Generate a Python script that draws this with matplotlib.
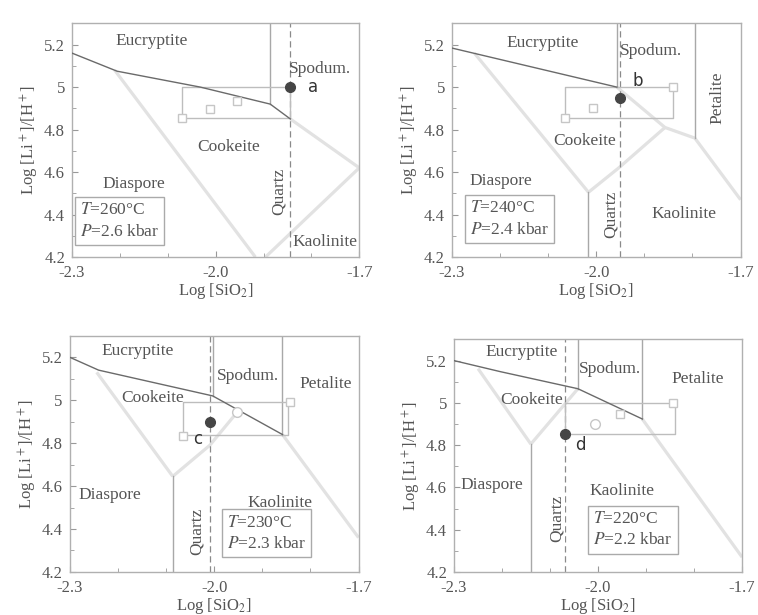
import matplotlib
matplotlib.use("Agg")
import matplotlib.pyplot as plt
from matplotlib.ticker import MultipleLocator, FixedLocator

plt.rcParams['font.family'] = ['Liberation Serif', 'DejaVu Serif']
plt.rcParams['mathtext.fontset'] = 'stix'

# ---- data (x = log[SiO2], y = log[Li+]/[H+]) ----
panels = ['a', 'b', 'c', 'd']
temps = [260, 240, 230, 220]
press = [2.6, 2.4, 2.3, 2.2]

# eucryptite / spodumene boundary (dark solid line)
eucr_x = [[-2.3, -2.206, -2.032, -1.886, -1.844],
          [-2.3, -1.957],
          [-2.3, -2.24, -2.003, -1.858],
          [-2.3, -2.204, -2.042, -1.908]]
eucr_y = [[5.16, 5.075, 5.0, 4.92, 4.85],
          [5.184, 5.0],
          [5.2, 5.14, 5.02, 4.84],
          [5.2, 5.148, 5.067, 4.924]]

# vertical phase boundaries: (x, y_low, y_high)
vert_a = [(-1.886, 4.92, 5.3)]
vert_b = [(-1.957, 5.0, 5.3), (-1.795, 4.76, 5.3), (-2.016, 4.2, 4.505)]
vert_c = [(-2.003, 5.02, 5.3), (-1.858, 4.84, 5.3), (-2.086, 4.2, 4.645)]
vert_d = [(-2.042, 5.067, 5.3), (-1.908, 4.924, 5.3), (-2.14, 4.2, 4.805)]

# light (broad grey) boundaries
light_a = [([-2.211, -1.917], [5.08, 4.2]),
           ([-1.896, -1.7], [4.2, 4.62]),
           ([-1.844, -1.7], [4.85, 4.62])]
light_b = [([-2.253, -2.016], [5.16, 4.505]),
           ([-2.016, -1.953, -1.857], [4.505, 4.62, 4.81]),
           ([-1.957, -1.857, -1.795, -1.7], [5.0, 4.81, 4.76, 4.47])]
light_c = [([-2.244, -2.086], [5.13, 4.645]),
           ([-2.086, -2.009, -1.95], [4.645, 4.79, 4.95]),
           ([-1.858, -1.7], [4.84, 4.36])]
light_d = [([-2.25, -2.14], [5.162, 4.805]),
           ([-2.14, -2.042], [4.805, 5.067]),
           ([-1.908, -1.7], [4.924, 4.27])]

# quartz saturation (dashed)
quartz_x = [-1.844, -1.951, -2.009, -2.069]

# fluid composition range boxes
range_x = [[-2.07, -1.844], [-2.065, -1.84], [-2.065, -1.847], [-2.069, -1.84]]
range_y = [[4.855, 5.0], [4.856, 5.0], [4.84, 4.99], [4.852, 5.0]]

# hollow markers inside the boxes
sq_x = [[-2.011, -2.07, -1.955], [-1.841, -2.007, -2.065], [-1.843, -2.065], [-1.844, -1.954]]
sq_y = [[4.897, 4.855, 4.935], [5.0, 4.9, 4.856], [4.99, 4.835], [5.0, 4.948]]
ci_x = [[], [], [-1.953], [-2.006]]
ci_y = [[], [], [4.944], [4.90]]

# sample points
pt_x = [-1.844, -1.951, -2.009, -2.069]
pt_y = [5.0, 4.95, 4.897, 4.852]

# ---- layout ----
axes_pos = [[0.095, 0.582, 0.379, 0.380],
            [0.596, 0.582, 0.381, 0.380],
            [0.092, 0.070, 0.381, 0.384],
            [0.599, 0.070, 0.380, 0.378]]

phase_text = [
    [('Eucryptite', -2.133, 5.216, 0), ('Spodum.', -1.782, 5.083, 0), ('Cookeite', -1.973, 4.716, 0),
     ('Diaspore', -2.171, 4.544, 0), ('Quartz', -1.869, 4.51, 90), ('Kaolinite', -1.772, 4.27, 0)],
    [('Eucryptite', -2.111, 5.208, 0), ('Spodum.', -1.887, 5.169, 0), ('Petalite', -1.749, 4.95, 90),
     ('Cookeite', -2.025, 4.747, 0), ('Diaspore', -2.198, 4.559, 0), ('Quartz', -1.970, 4.403, 90),
     ('Kaolinite', -1.817, 4.403, 0)],
    [('Eucryptite', -2.158, 5.23, 0), ('Spodum.', -1.93, 5.114, 0), ('Petalite', -1.768, 5.075, 0),
     ('Cookeite', -2.127, 5.0125, 0), ('Diaspore', -2.217, 4.559, 0), ('Quartz', -2.037, 4.3875, 90),
     ('Kaolinite', -1.864, 4.52, 0)],
    [('Eucryptite', -2.16, 5.24, 0), ('Spodum.', -1.976, 5.16, 0), ('Petalite', -1.792, 5.113, 0),
     ('Cookeite', -2.139, 5.013, 0), ('Diaspore', -2.222, 4.613, 0), ('Quartz', -2.087, 4.454, 90),
     ('Kaolinite', -1.951, 4.581, 0)],
]
pt_label_pos = [(-1.797, 5.0), (-1.914, 5.03), (-2.034, 4.818), (-2.037, 4.80)]
box_pos = [(-2.283, 4.37), (-2.262, 4.38), (-1.973, 4.38), (-2.01, 4.40)]

verts = [vert_a, vert_b, vert_c, vert_d]
lights = [light_a, light_b, light_c, light_d]

txt_col = '#555555'
fig = plt.figure(figsize=(7.58, 6.15), dpi=100)

for i in range(4):
    ax = fig.add_axes(axes_pos[i])

    for xs, ys in lights[i]:
        ax.plot(xs, ys, color='#e2e2e2', lw=2.3, solid_capstyle='butt', zorder=1)
    for x, y0, y1 in verts[i]:
        ax.plot([x, x], [y0, y1], color='#a8a8a8', lw=1.0, zorder=2)
    ax.axvline(quartz_x[i], color='#8a8a8a', lw=0.9, ls=(0, (5, 3)), zorder=2)
    ax.plot(eucr_x[i], eucr_y[i], color='#6a6a6a', lw=1.0, zorder=3)

    x0, x1 = range_x[i]
    y0, y1 = range_y[i]
    ax.plot([x0, x1, x1, x0, x0], [y0, y0, y1, y1, y0], color='#bdbdbd', lw=1.0, zorder=2)
    ax.plot(sq_x[i], sq_y[i], 's', ms=6, mfc='white', mec='#c6c6c6', mew=1.0, ls='none', zorder=4)
    ax.plot(ci_x[i], ci_y[i], 'o', ms=7, mfc='white', mec='#c6c6c6', mew=1.0, ls='none', zorder=4)
    ax.plot(pt_x[i], pt_y[i], 'o', ms=7, color='#454545', zorder=5)
    ax.text(*pt_label_pos[i], panels[i], family='DejaVu Sans', fontsize=12, color='#333333',
            ha='center', va='center', zorder=6)

    for s, tx, ty, rot in phase_text[i]:
        ax.text(tx, ty, s, fontsize=12.5, color=txt_col, ha='center', va='center', rotation=rot,
                zorder=6, bbox=dict(fc='white', ec='none', pad=0.5) if rot else None)

    bx, by = box_pos[i]
    ax.text(bx, by, '$T$=%d\u00b0C\n$P$=%.1f kbar' % (temps[i], press[i]), fontsize=12.5,
            color=txt_col, ha='left', va='center', linespacing=1.45, zorder=6,
            bbox=dict(boxstyle='square,pad=0.3', fc='white', ec='#aaaaaa', lw=1.0))

    ax.set_xlim(-2.3, -1.7)
    ax.set_ylim(4.2, 5.3)
    ax.xaxis.set_major_locator(FixedLocator([-2.3, -2.0, -1.7]))
    ax.xaxis.set_minor_locator(MultipleLocator(0.1))
    ax.yaxis.set_major_locator(FixedLocator([4.2, 4.4, 4.6, 4.8, 5.0, 5.2]))
    ax.yaxis.set_minor_locator(MultipleLocator(0.1))
    ax.set_xticklabels(['-2.3', '-2.0', '-1.7'])
    ax.set_yticklabels(['4.2', '4.4', '4.6', '4.8', '5', '5.2'])
    ax.tick_params(which='both', direction='in', colors='#999999', labelcolor=txt_col,
                   labelsize=12, top=False, right=False)
    ax.tick_params(axis='x', which='major', pad=6)
    ax.tick_params(axis='y', which='major', pad=5)
    ax.tick_params(which='major', length=4)
    ax.tick_params(which='minor', length=3)
    for sp in ax.spines.values():
        sp.set_color('#b0b0b0')
        sp.set_linewidth(1.0)

    ax.set_xlabel('Log [SiO$_2$]', fontsize=12, color=txt_col, labelpad=0)
    ax.set_ylabel('Log [Li$^+$]/[H$^+$]', fontsize=12, color=txt_col, labelpad=2)

fig.savefig('out.png', dpi=100, facecolor='white')
